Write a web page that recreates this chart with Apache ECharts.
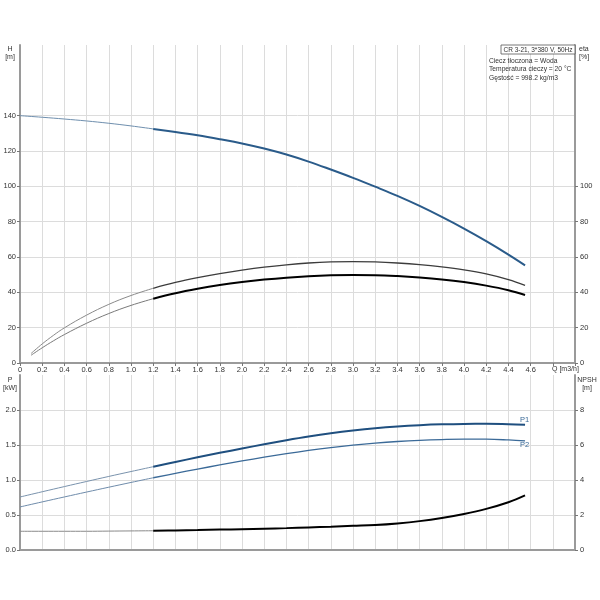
<!DOCTYPE html>
<html>
<head>
<meta charset="utf-8">
<script src="https://cdn.jsdelivr.net/npm/echarts@6/dist/echarts.min.js"></script>
<style>html,body{margin:0;padding:0;background:#fff}#c{width:600px;height:600px}</style>
</head>
<body>
<div id="c"></div>
<script>
// Flow rate Q [m3/h]
const qFlow = [0,0.2,0.4,0.6,0.8,1.0,1.2,1.4,1.6,1.8,2.0,2.2,2.4,2.6,2.8,3.0,3.2,3.4,3.6,3.8,4.0,4.2,4.4,4.55];
// Head H [m]
const head = [140,139.1,138.1,137.0,135.7,134.2,132.5,130.8,128.9,126.7,124.3,121.4,118.0,114.0,109.5,104.8,99.8,94.6,88.9,82.7,76.1,69.0,61.4,55.3];
// Efficiency curves [%]
const qEta = [0.1,0.2,0.3,0.4,0.6,0.8,1.0,1.2,1.4,1.6,1.8,2.0,2.2,2.4,2.6,2.8,3.0,3.2,3.4,3.6,3.8,4.0,4.2,4.4,4.55];
const etaUpper = [5.4,10.8,15.6,19.9,27.1,33.2,38.2,42.3,45.6,48.3,50.6,52.6,54.3,55.6,56.6,57.2,57.4,57.2,56.6,55.7,54.4,52.7,50.4,47.2,44.0];
const etaLower = [4.4,8.6,12.5,16.1,22.5,28.0,32.6,36.4,39.5,42.0,44.1,45.8,47.2,48.3,49.1,49.6,49.8,49.7,49.2,48.4,47.3,45.8,43.8,41.2,38.5];
// Power [kW]
const p1 = [0.757,0.832,0.906,0.979,1.051,1.121,1.190,1.258,1.324,1.388,1.450,1.510,1.567,1.620,1.667,1.707,1.740,1.765,1.783,1.795,1.801,1.802,1.798,1.790];
const p2 = [0.615,0.687,0.758,0.828,0.897,0.965,1.032,1.095,1.156,1.215,1.272,1.326,1.376,1.422,1.463,1.498,1.527,1.550,1.567,1.578,1.584,1.583,1.572,1.558];
// NPSH [m]
const npsh = [1.07,1.07,1.07,1.07,1.08,1.09,1.10,1.12,1.14,1.165,1.19,1.22,1.25,1.29,1.33,1.38,1.43,1.52,1.65,1.83,2.06,2.35,2.73,3.12];
// Tick labels
const hTicks = [0,20,40,60,80,100,120,140];
const etaTicks = [0,20,40,60,80,100];
const pTicks = [0,0.5,1.0,1.5,2.0];
const npshTicks = [0,2,4,6,8];
const infoLines = ['Ciecz tłoczona = Woda','Temperatura cieczy = 20 °C','Gęstość = 998.2 kg/m3'];
const pumpTitle = 'CR 3-21, 3*380 V, 50Hz';
const SPLIT_Q = 1.2;

function pairs(xs, ys, part){
  const out = [];
  xs.forEach((x,i)=>{
    if (part==='thin' && x<=SPLIT_Q+1e-9) out.push([x,ys[i]]);
    if (part==='thick' && x>=SPLIT_Q-1e-9) out.push([x,ys[i]]);
  });
  return out;
}

const FONT = 'Liberation Sans, Arial, sans-serif';
const lab = {fontSize:7.5, color:'#333', fontFamily:FONT};
const axLine = {show:true, lineStyle:{color:'#9a9a9a', width:2}};
const split = {show:true, lineStyle:{color:'#dcdcdc', width:1}};
const tick = {show:true, length:3, lineStyle:{color:'#777', width:1}};

function line(name, data, xi, yi, color, width, extra){
  return Object.assign({name, type:'line', xAxisIndex:xi, yAxisIndex:yi, data,
    showSymbol:false, symbol:'none', smooth:0.4, silent:true,
    lineStyle:{color, width}, z:3}, extra||{});
}
function txt(x, y, text, align, extra){
  return Object.assign({type:'text', x, y, z:11,
    style:{text, fontSize:7, fill:'#333', fontFamily:FONT, align:align||'left', lineHeight:8}}, extra||{});
}

const chart = echarts.init(document.getElementById('c'), null, {renderer:'canvas'});
chart.setOption({
  animation:false,
  backgroundColor:'#fff',
  grid:[
    {left:20, width:555, top:45, height:318},
    {left:20, width:555, top:375, height:175}
  ],
  xAxis:[
    {type:'value', gridIndex:0, min:0, max:5, interval:0.2,
     axisLine:axLine, axisTick:tick, splitLine:split,
     axisLabel:Object.assign({margin:3, formatter:v=>{
        if (v>4.61) return '';
        return Math.abs(v)<1e-9 ? '0' : v.toFixed(1);
     }}, lab)},
    {type:'value', gridIndex:1, min:0, max:5, interval:0.2,
     axisLine:axLine, axisTick:{show:false}, splitLine:split, axisLabel:{show:false}}
  ],
  yAxis:[
    {type:'value', gridIndex:0, position:'left', min:0, max:180, interval:20,
     axisLine:axLine, splitLine:split,
     axisTick:Object.assign({customValues:hTicks}, tick),
     axisLabel:Object.assign({customValues:hTicks, margin:4}, lab)},
    {type:'value', gridIndex:0, position:'right', min:0, max:180, interval:20,
     axisLine:axLine, splitLine:{show:false},
     axisTick:Object.assign({customValues:etaTicks}, tick),
     axisLabel:Object.assign({customValues:etaTicks, margin:5}, lab)},
    {type:'value', gridIndex:1, position:'left', min:0, max:2.5, interval:0.5,
     axisLine:axLine, splitLine:split,
     axisTick:Object.assign({customValues:pTicks}, tick),
     axisLabel:Object.assign({customValues:pTicks, margin:4, formatter:v=>v.toFixed(1)}, lab)},
    {type:'value', gridIndex:1, position:'right', min:0, max:10, interval:2,
     axisLine:axLine, splitLine:{show:false},
     axisTick:Object.assign({customValues:npshTicks}, tick),
     axisLabel:Object.assign({customValues:npshTicks, margin:5}, lab)}
  ],
  series:[
    line('H thin', pairs(qFlow, head, 'thin'), 0, 0, '#6f8fae', 1),
    line('H', pairs(qFlow, head, 'thick'), 0, 0, '#2a5b8a', 2),
    line('eta1 thin', pairs(qEta, etaUpper, 'thin'), 0, 1, '#8a8a8a', 1),
    line('eta1', pairs(qEta, etaUpper, 'thick'), 0, 1, '#3c3c3c', 1.3),
    line('eta2 thin', pairs(qEta, etaLower, 'thin'), 0, 1, '#7a7a7a', 1),
    line('eta2', pairs(qEta, etaLower, 'thick'), 0, 1, '#000000', 2),
    line('P1 thin', pairs(qFlow, p1, 'thin'), 1, 2, '#7a93ad', 1),
    line('P1', pairs(qFlow, p1, 'thick'), 1, 2, '#1f4f7f', 2,
      {endLabel:{show:true, formatter:'P1', distance:0, offset:[-5,-5], fontSize:7.5, color:'#3a6a98', fontFamily:FONT}}),
    line('P2 thin', pairs(qFlow, p2, 'thin'), 1, 2, '#6f8cab', 1),
    line('P2', pairs(qFlow, p2, 'thick'), 1, 2, '#3b6a98', 1.3,
      {endLabel:{show:true, formatter:'P2', distance:0, offset:[-5,4], fontSize:7.5, color:'#3a6a98', fontFamily:FONT}}),
    line('NPSH thin', pairs(qFlow, npsh, 'thin'), 1, 3, '#8a8a8a', 1),
    line('NPSH', pairs(qFlow, npsh, 'thick'), 1, 3, '#000000', 2)
  ],
  graphic:[
    txt(10, 45, 'H\n[m]', 'center'),
    txt(579, 45, 'eta\n[%]', 'left'),
    txt(10, 376, 'P\n[kW]', 'center'),
    txt(587, 376, 'NPSH\n[m]', 'center'),
    txt(552, 365, 'Q [m3/h]', 'left'),
    {type:'rect', z:10, shape:{x:501, y:45, width:74, height:9}, style:{fill:'#fff', stroke:'#555', lineWidth:0.8}},
    {type:'text', x:538, y:46.5, z:11, style:{text:pumpTitle, fontSize:6.5, fill:'#333', fontFamily:FONT, align:'center'}},
    {type:'text', x:489, y:57, z:11, style:{text:infoLines.join('\n'), fontSize:6.7, fill:'#333', fontFamily:FONT, lineHeight:8.4}}
  ]
});
</script>
</body>
</html>
